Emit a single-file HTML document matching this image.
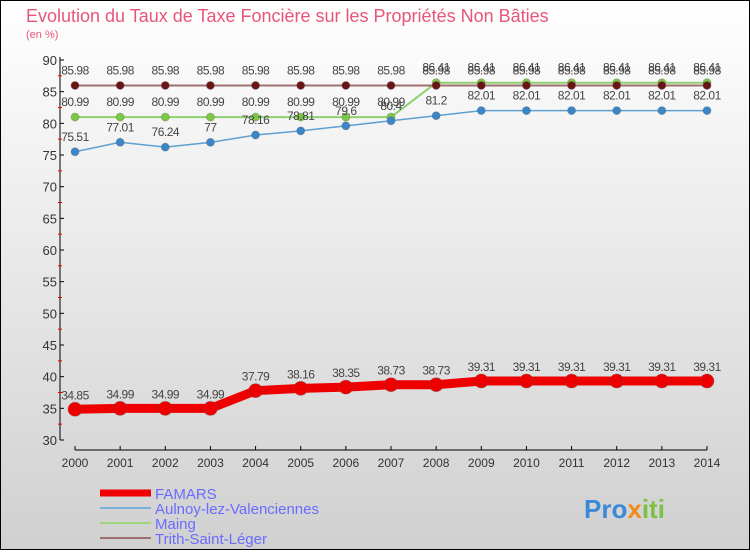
<!DOCTYPE html>
<html><head><meta charset="utf-8"><style>
html,body{margin:0;padding:0;}
body{width:750px;height:550px;overflow:hidden;font-family:"Liberation Sans",sans-serif;}
</style></head><body>
<svg id="chart" width="750" height="550" xmlns="http://www.w3.org/2000/svg">
<defs><linearGradient id="bg" x1="0" y1="0" x2="0" y2="1"><stop offset="0" stop-color="#ffffff"/><stop offset="1" stop-color="#d0d0d0"/></linearGradient></defs>
<rect x="0.5" y="0.5" width="749" height="549" fill="url(#bg)" stroke="#000"/>
<text x="26" y="22" font-size="18" fill="#e8557a">Evolution du Taux de Taxe Foncière sur les Propriétés Non Bâties</text>
<text x="26" y="38" font-size="11" fill="#e8557a">(en %)</text>
<g id="axes"></g>
<g id="series"></g>
<g id="legend"></g>
<text x="584" y="518" font-size="26" font-weight="bold" fill="#3a8ad6">Pro<tspan fill="#f08a1c">x</tspan><tspan fill="#7bc142">iti</tspan></text>
</svg>
<script>
const years=["2000","2001","2002","2003","2004","2005","2006","2007","2008","2009","2010","2011","2012","2013","2014"];
const famars=[34.85,34.99,34.99,34.99,37.79,38.16,38.35,38.73,38.73,39.31,39.31,39.31,39.31,39.31,39.31];
const aulnoy=[75.51,77.01,76.24,77,78.16,78.81,79.6,80.4,81.2,82.01,82.01,82.01,82.01,82.01,82.01];
const maing=[80.99,80.99,80.99,80.99,80.99,80.99,80.99,80.99,86.41,86.41,86.41,86.41,86.41,86.41,86.41];
const trith=[85.98,85.98,85.98,85.98,85.98,85.98,85.98,85.98,85.98,85.98,85.98,85.98,85.98,85.98,85.98];
const yTicks=[30,35,40,45,50,55,60,65,70,75,80,85,90];
const NS="http://www.w3.org/2000/svg";
const X=i=>75+i*(707-75)/(years.length-1);
const Y=v=>440-(v-30)*(380/60);
function mk(t,a,p){const e=document.createElementNS(NS,t);for(const k in a)e.setAttribute(k,a[k]);p.appendChild(e);return e;}
const ax=document.getElementById('axes');
let l=mk('line',{x1:60,y1:57,x2:60,y2:440,stroke:'#000'},ax);


l=mk('line',{x1:75,y1:450,x2:707,y2:450,stroke:'#000'},ax);


yTicks.forEach(v=>{
 mk('line',{x1:60,y1:Y(v),x2:64,y2:Y(v),stroke:'#000'},ax);
 if(v<90)mk('line',{x1:58,y1:Y(v+2.5),x2:62,y2:Y(v+2.5),stroke:'#e00'},ax);
 const t=mk('text',{x:57,y:Y(v)+5,'font-size':13,fill:'#333','text-anchor':'end'},ax);t.textContent=v;
 
 
});
years.forEach((y,i)=>{
 mk('line',{x1:X(i),y1:446,x2:X(i),y2:450,stroke:'#000'},ax);
 const t=mk('text',{x:X(i),y:467,'font-size':12,fill:'#333','text-anchor':'middle'},ax);t.textContent=y;
 
 
});
const sg=document.getElementById('series');
function series(data,color,dot,w,r,name){
 const g=mk('g',{},sg);
 
 
 mk('polyline',{points:data.map((v,i)=>X(i)+','+Y(v)).join(' '),fill:'none',stroke:color,'stroke-width':w},g);
 data.forEach((v,i)=>{
  const c=mk('circle',{cx:X(i),cy:Y(v),r:r,fill:dot,stroke:'#555','stroke-opacity':0.3},g);
  
  
  const t=mk('text',{x:X(i),y:Y(v)-(w>4?10:11),'font-size':12,fill:'#444','text-anchor':'middle','letter-spacing':'-0.5'},g);
  t.textContent=v;
  
  
 });
}
series(maing,'#8fd070','#7ac943',2,4,'maing-series');
series(trith,'#a07070','#6b1414',2,4,'trith-series');
series(aulnoy,'#5fa0d0','#3a86c8',1.5,4,'aulnoy-series');
series(famars,'#ee0000','#ee0000',9,7,'famars-series');
const lg=document.getElementById('legend');
const leg=[["FAMARS","#ee0000",7],["Aulnoy-lez-Valenciennes","#7ab0d8",2],["Maing","#9ed67a",2],["Trith-Saint-Léger","#a07070",2]];
leg.forEach((e,i)=>{
 const y=493+i*15;
 mk('line',{x1:100,y1:y,x2:151,y2:y,stroke:e[1],'stroke-width':e[2]},lg);
 const t=mk('text',{x:155,y:y+6,'font-size':15,fill:'#6b6bff'},lg);t.textContent=e[0];
 
 
});
</script>
</body></html>
